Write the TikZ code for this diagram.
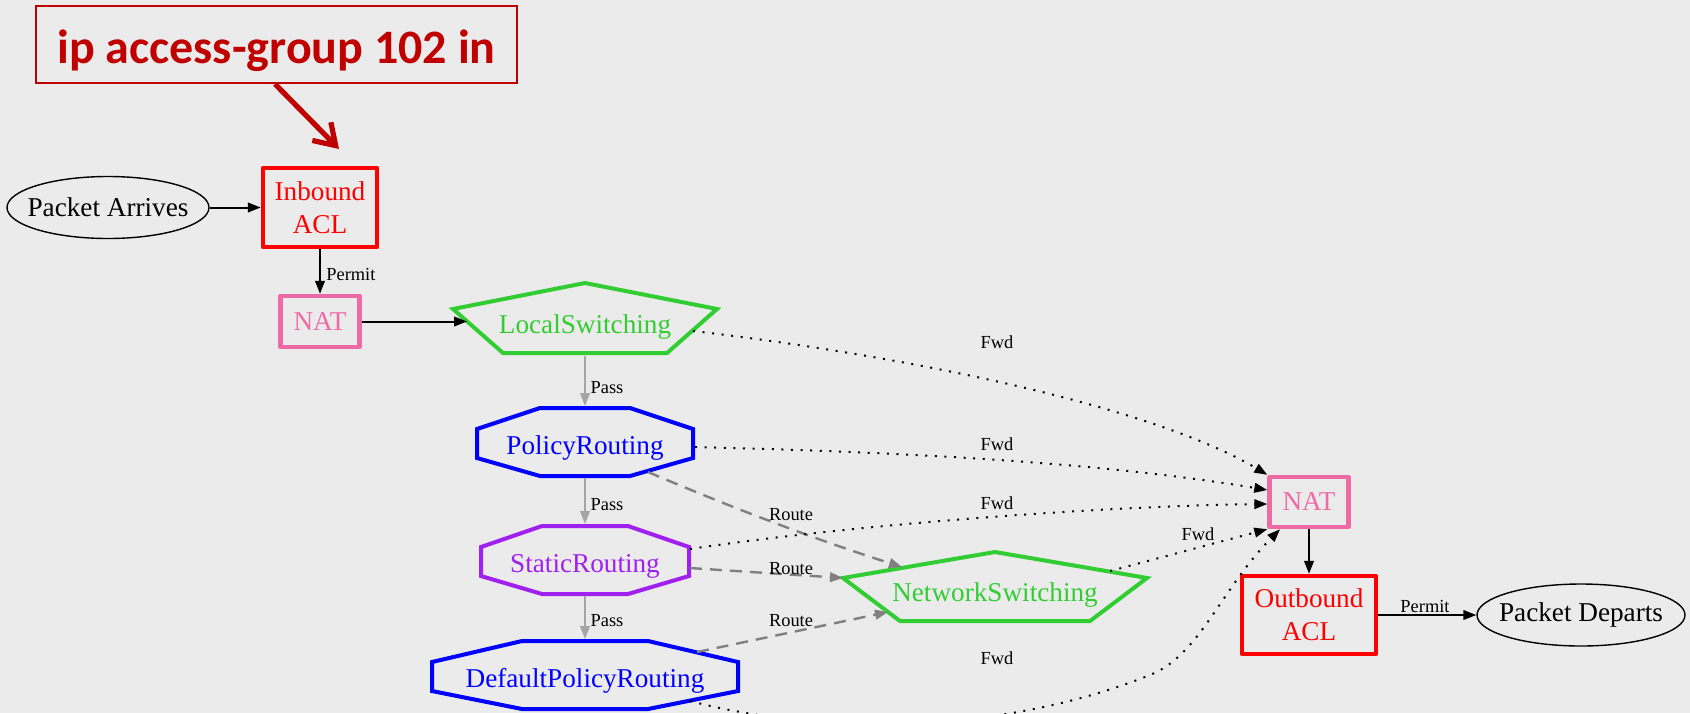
\documentclass[tikz,border=0pt]{standalone}
\usepackage{fontspec}
\setmainfont{Liberation Serif}
\newfontfamily\calloutfont{Carlito}
\usetikzlibrary{arrows.meta,shapes.geometric}

\definecolor{canvas}{RGB}{235,235,235}
\definecolor{aclred}{RGB}{255,0,0}
\definecolor{natpink}{RGB}{238,106,167}
\definecolor{swgreen}{RGB}{50,205,50}
\definecolor{rtblue}{RGB}{0,0,255}
\definecolor{rtpurple}{RGB}{160,32,240}
\definecolor{passgray}{RGB}{165,165,165}
\definecolor{routegray}{RGB}{128,128,128}
\definecolor{calloutred}{RGB}{192,0,0}

\newcommand{\nodefs}{\fontsize{13.6pt}{16.4pt}\selectfont}
\newcommand{\labelfs}{\fontsize{9.2pt}{11pt}\selectfont}

\tikzset{
  x=0.5pt, y=-0.5pt,
  tip/.style={-{Triangle[length=6.5pt,width=4.8pt]}},
  flow/.style={tip, line width=1pt, black},
  pass/.style={tip, line width=1pt, passgray},
  route/.style={tip, line width=1.2pt, routegray, dash pattern=on 6pt off 4pt},
  fwd/.style={tip, line width=1pt, black, dash pattern=on 1pt off 3.8pt},
  box/.style={draw, rectangle, line width=2.2pt, inner sep=0pt, align=center, font=\nodefs, line join=round},
  term/.style={draw, ellipse, line width=0.7pt, inner xsep=-6pt, inner ysep=0pt, font=\nodefs},
  shapetext/.style={anchor=base, inner sep=0pt, font=\nodefs},
  poly/.style={line width=2pt, line join=miter},
  lbl/.style={anchor=base, inner sep=0pt, font=\labelfs},
}

\begin{document}
\begin{tikzpicture}
\fill[canvas] (0,0) rectangle (1690,713);
\useasboundingbox (0,0) rectangle (1690,713);
\clip (0,0) rectangle (1690,713);

% callout with the interface command
\node[draw=calloutred, line width=1pt, minimum width=240.5pt, minimum height=38.5pt, inner sep=0pt,
      text height=18.5pt, text depth=0pt,
      text=calloutred, font=\calloutfont\bfseries\fontsize{24pt}{29pt}\selectfont] (callout) at (276.5,44.5) {ip access-group 102 in};
\coordinate (calloutTip) at (339,149);
\draw[calloutred, line width=2.6pt, -{Straight Barb[length=10pt,width=13pt]}] ([xshift=-0.75pt]callout.south) -- (calloutTip);

% ingress side
\node[term, minimum width=101pt, minimum height=31pt] (pa) at (108,207.5) {Packet Arrives};
\node[box, draw=aclred, text=aclred, minimum width=57pt, minimum height=39.5pt] (inb) at (320,207.5) {Inbound\\ACL};
\node[box, draw=natpink, text=natpink, minimum width=39.5pt, minimum height=25.5pt] (nat1) at (320,321.5) {NAT};

% switching / routing decisions
\node[shapetext, text=swgreen] (ls) at (585,333) {LocalSwitching};
\draw[poly, swgreen, shift={(ls.base)}] (0,-50) -- (132,-24) -- (82,20) -- (-82,20) -- (-132,-24) -- cycle;

\node[shapetext, text=rtblue] (pr) at (585,454) {PolicyRouting};
\draw[poly, rtblue, shift={(pr.base)}] (-45,-46) -- (45,-46) -- (108,-25) -- (108,4) -- (45,22) -- (-45,22) -- (-108,4) -- (-108,-25) -- cycle;

\node[shapetext, text=rtpurple] (sr) at (585,572) {StaticRouting};
\draw[poly, rtpurple, shift={(sr.base)}] (-43,-46) -- (43,-46) -- (104,-25) -- (104,4) -- (43,22) -- (-43,22) -- (-104,4) -- (-104,-25) -- cycle;

\node[shapetext, text=rtblue] (dpr) at (585,687) {DefaultPolicyRouting};
\draw[poly, rtblue, shift={(dpr.base)}] (-63,-46) -- (63,-46) -- (153,-25) -- (153,4) -- (63,22) -- (-63,22) -- (-153,4) -- (-153,-25) -- cycle;

\node[shapetext, text=swgreen] (ns) at (995,601) {NetworkSwitching};
\draw[poly, swgreen, shift={(ns.base)}] (0,-49) -- (152,-23) -- (95,20) -- (-95,20) -- (-152,-23) -- cycle;

% egress side
\node[box, draw=natpink, text=natpink, minimum width=39.5pt, minimum height=25pt] (nat2) at (1309,502) {NAT};
\node[box, draw=aclred, text=aclred, minimum width=67pt, minimum height=39pt] (outb) at (1309,615) {Outbound\\ACL};
\node[term, minimum width=104pt, minimum height=31pt] (pd) at (1581,615) {Packet Departs};

% solid flow
\draw[flow] (pa) -- (inb);
\draw[flow] (inb) -- (nat1);
\draw[flow] (nat1) -- ([shift={(-118,-11.5)}]ls.base);
\draw[flow] (nat2) -- (outb);
\draw[flow] (outb) -- (pd);

% fall-through between lookups
\draw[pass] ([shift={(0,23)}]ls.base) -- ([shift={(0,-48)}]pr.base);
\draw[pass] ([shift={(0,24)}]pr.base) -- ([shift={(0,-48)}]sr.base);
\draw[pass] ([shift={(0,24)}]sr.base) -- ([shift={(0,-48)}]dpr.base);

% routed to network switching
\draw[route] ([shift={(63,18)}]pr.base) .. controls (735,509) and (820,541) .. ([shift={(-93,-34)}]ns.base);
\draw[route] ([shift={(105,-4)}]sr.base) -- ([shift={(-152,-23)}]ns.base);
\draw[route] ([shift={(112,-35)}]dpr.base) -- ([shift={(-107,11)}]ns.base);

% forwarded to outbound NAT
\draw[fwd] ([shift={(108,-2)}]ls.base) .. controls (900,355) and (1150,405) .. (nat2.north west);
\draw[fwd] ([shift={(110,-7)}]pr.base) .. controls (900,452) and (1100,462) .. ([shift={(0,-12)}]nat2.west);
\draw[fwd] ([shift={(105,-23)}]sr.base) .. controls (850,525) and (1100,506) .. ([shift={(0,2)}]nat2.west);
\draw[fwd] ([shift={(115,-30)}]ns.base) -- (nat2.south west);
\draw[fwd] ([shift={(105,14)}]dpr.base) .. controls (820,735) and (1000,735) .. (1150,675)
           .. controls (1200,655) and (1220,590) .. ([shift={(-29,0)}]nat2.south);

% edge labels
\node[lbl, anchor=base west] (lPermitIn) at (326,280) {Permit};
\node[lbl] (lPermitOut) at (1425,612) {Permit};
\node[lbl] (lPass1) at (607,393) {Pass};
\node[lbl] (lPass2) at (607,510) {Pass};
\node[lbl] (lPass3) at (607,626) {Pass};
\node[lbl] (lRoute1) at (791,520) {Route};
\node[lbl] (lRoute2) at (791,574) {Route};
\node[lbl] (lRoute3) at (791,626) {Route};
\node[lbl] (lFwd1) at (997,348) {Fwd};
\node[lbl] (lFwd2) at (997,450) {Fwd};
\node[lbl] (lFwd3) at (997,509) {Fwd};
\node[lbl] (lFwd4) at (1198,540) {Fwd};
\node[lbl] (lFwd5) at (997,664) {Fwd};
\end{tikzpicture}
\end{document}
